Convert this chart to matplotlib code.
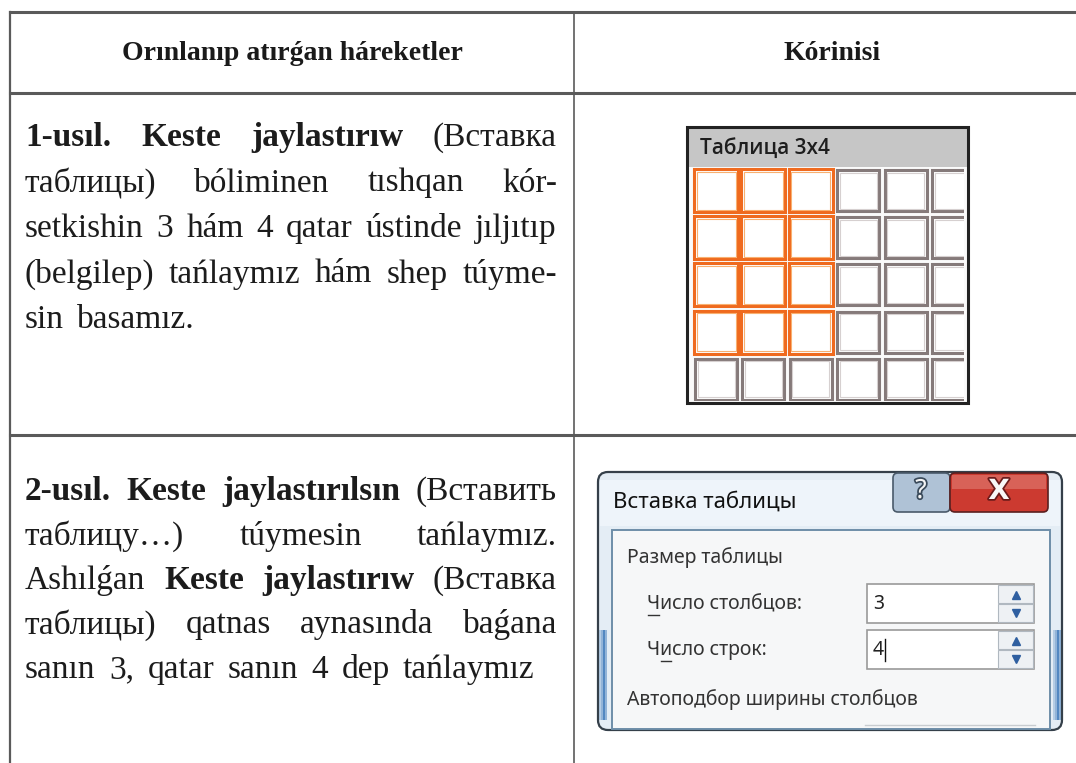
import matplotlib
matplotlib.use('Agg')
import matplotlib.pyplot as plt
from matplotlib.patches import Rectangle, FancyBboxPatch
import matplotlib.patheffects as pe

# table content
headers = ['Orınlanıp atırǵan háreketler', 'Kórinisi']

# ** ** marks bold words; last line of each block is not justified
method1 = [
    '**1-usıl.** **Keste** **jaylastırıw** (Вставка',
    'таблицы) bóliminen tıshqan kór-',
    'setkishin 3 hám 4 qatar ústinde jıljıtıp',
    '(belgilep) tańlaymız hám shep túyme-',
    'sin basamız.',
]
method2 = [
    '**2-usıl.** **Keste** **jaylastırılsın** (Вставить',
    'таблицу…) túymesin tańlaymız.',
    'Ashılǵan **Keste** **jaylastırıw** (Вставка',
    'таблицы) qatnas aynasında baǵana',
    'sanın 3, qatar sanın 4 dep tańlaymız',
]

# "Таблица 3x4" picker
grid_title = 'Таблица 3x4'
grid_cols, grid_rows = 6, 5
sel_cols, sel_rows = 3, 4

# "Вставка таблицы" dialog
dlg_title = 'Вставка таблицы'
dlg_group = 'Размер таблицы'
dlg_fields = ['Число столбцов:', 'Число строк:']
dlg_underline = [0, 1]
dlg_values = ['3', '4']
dlg_footer = 'Автоподбор ширины столбцов'

W, H = 1076, 763
fig = plt.figure(figsize=(W / 100, H / 100), dpi=100)
ax = fig.add_axes([0, 0, 1, 1])
ax.set_xlim(0, W)
ax.set_ylim(H, 0)
ax.axis('off')
renderer = fig.canvas.get_renderer()

serif = ['Liberation Serif', 'DejaVu Serif']
sans = ['Noto Sans', 'DejaVu Sans']
line_col = '#5a5a5a'

# table lines
x_left, x_mid, y_top, y_head, y_row = 10, 574, 12, 93, 435
ax.plot([x_left, W], [y_top, y_top], color=line_col, lw=2.2)
ax.plot([x_left, W], [y_head, y_head], color=line_col, lw=2.2)
ax.plot([x_left, W], [y_row, y_row], color=line_col, lw=2.2)
ax.plot([x_left, x_left], [y_top, H], color=line_col, lw=1.6)
ax.plot([x_mid, x_mid], [y_top, H], color=line_col, lw=1.2)

ax.text((x_left + x_mid) / 2, 54, headers[0], family=serif, weight='bold',
        fontsize=20, ha='center', va='center', color='#1a1a1a')
ax.text(832, 54, headers[1], family=serif, weight='bold',
        fontsize=20, ha='center', va='center', color='#1a1a1a')


def text_width(t):
    bb = t.get_window_extent(renderer)
    return bb.width


def draw_block(lines, x0, x1, y0, dy, size):
    space = None
    for i, line in enumerate(lines):
        words = []
        for w in line.split():
            bold = w.startswith('**')
            words.append((w.strip('*'), bold))
        objs = []
        for w, bold in words:
            t = ax.text(x0, y0 + i * dy, w, family=serif, fontsize=size,
                        weight='bold' if bold else 'normal',
                        ha='left', va='baseline', color='#1c1c1c')
            objs.append(t)
        widths = [text_width(t) for t in objs]
        if space is None:
            probe = ax.text(0, 0, 'a a', family=serif, fontsize=size)
            probe2 = ax.text(0, 0, 'aa', family=serif, fontsize=size)
            space = text_width(probe) - text_width(probe2)
            probe.remove()
            probe2.remove()
        if i < len(lines) - 1 and len(objs) > 1:
            gap = (x1 - x0 - sum(widths)) / (len(objs) - 1)
        else:
            gap = space * 1.6
        x = x0
        for t, w in zip(objs, widths):
            t.set_x(x)
            x += w + gap


draw_block(method1, 25, 557, 146, 45.5, 24)
draw_block(method2, 25, 557, 500, 44.5, 24)

# ---- table size picker
fx0, fx1, fy0, fy1 = 687, 968, 127, 403
ax.add_patch(Rectangle((fx0, fy0), fx1 - fx0, fy1 - fy0, facecolor='#fafafa',
                       edgecolor='none'))
ax.add_patch(Rectangle((fx0, fy0), fx1 - fx0, 40, facecolor='#c6c6c6',
                       edgecolor='none'))
ax.text(fx0 + 13, fy0 + 21, grid_title, family=['Open Sans', 'DejaVu Sans'],
        fontsize=15, weight='semibold', ha='left', va='center', color='#1e1e1e')
clip = Rectangle((fx0, fy0), fx1 - fx0 - 4, fy1 - fy0 - 2, transform=ax.transData,
                 facecolor='none', edgecolor='none')
ax.add_patch(clip)
for r in range(grid_rows):
    for c in range(grid_cols):
        cx = 694 + c * 47.4
        cy = 169 + r * 47.2
        selected = c < sel_cols and r < sel_rows
        if selected:
            outer = Rectangle((cx, cy), 44, 43, facecolor='white',
                              edgecolor='#ef6a1e', lw=2.2)
            inner = Rectangle((cx + 2.5, cy + 2.5), 39, 38, facecolor='none',
                              edgecolor='#f8b070', lw=0.8)
        else:
            outer = Rectangle((cx + 1, cy + 1), 42, 41, facecolor='white',
                              edgecolor='#857a7a', lw=2.2)
            inner = Rectangle((cx + 3.5, cy + 3.5), 37, 36, facecolor='none',
                              edgecolor='#d6d0d0', lw=0.8)
        for p in (outer, inner):
            ax.add_patch(p)
            p.set_clip_path(clip)
ax.add_patch(Rectangle((fx0, fy0), fx1 - fx0, fy1 - fy0, facecolor='none',
                       edgecolor='#222222', lw=2.2))

# ---- insert table dialog
dx0, dx1, dy0, dy1 = 598, 1062, 472, 730
ax.add_patch(FancyBboxPatch((dx0, dy0), dx1 - dx0, dy1 - dy0,
                            boxstyle='round,pad=0,rounding_size=10',
                            facecolor='#e4edf5', edgecolor='#35404a', lw=1.6))
ax.add_patch(Rectangle((dx0 + 2, dy0 + 8), dx1 - dx0 - 4, 46,
                       facecolor='#eef4fa', edgecolor='none'))
# side glows
for gx in (dx0 + 1, dx1 - 9):
    for k, a in enumerate([0.25, 0.45, 0.8, 0.45]):
        ax.add_patch(Rectangle((gx + k * 2, 630), 2, 90, facecolor='#2f6fb5',
                               edgecolor='none', alpha=a))
# help and close buttons
ax.add_patch(FancyBboxPatch((893, dy0 + 1), 57, 39,
                            boxstyle='round,pad=0,rounding_size=5',
                            facecolor='#afc2d6', edgecolor='#4a5a6a', lw=1.2))
ax.add_patch(FancyBboxPatch((950, dy0 + 1), 98, 39,
                            boxstyle='round,pad=0,rounding_size=5',
                            facecolor='#cc3a30', edgecolor='#5a2020', lw=1.2))
ax.add_patch(Rectangle((952, dy0 + 3), 94, 14, facecolor='#e8958a',
                       edgecolor='none', alpha=0.45))
ax.text(921, dy0 + 19, '?', family=sans, fontsize=19, ha='center', va='center',
        color='#f4f4f4',
        path_effects=[pe.withStroke(linewidth=2.5, foreground='#3a4a5a')])
ax.text(999, dy0 + 19, 'X', family=['DejaVu Sans'], fontsize=20, weight='bold',
        ha='center', va='center', color='#f8f8f8',
        path_effects=[pe.withStroke(linewidth=2.5, foreground='#6a1a1a')])
ax.text(dx0 + 15, 502, dlg_title, family=sans, fontsize=16, ha='left',
        va='center', color='#111111')

# inner panel
px0, px1, py0 = 612, 1050, 530
fs = 14
ax.add_patch(Rectangle((px0, py0), px1 - px0, dy1 - py0 - 1, facecolor='#f6f7f8',
                       edgecolor='#6e8ea8', lw=1.4))
ax.text(627, 558, dlg_group, family=sans, fontsize=fs, ha='left',
        va='center', color='#333333')
for i, (lab, ul, val) in enumerate(zip(dlg_fields, dlg_underline, dlg_values)):
    yc = 604 + i * 46
    t = ax.text(647, yc, lab, family=sans, fontsize=fs, ha='left',
                va='center', color='#333333')
    pre = ax.text(647, yc, lab[:ul], family=sans, fontsize=fs)
    ch = ax.text(647, yc, lab[:ul + 1], family=sans, fontsize=fs)
    u0 = 647 + (text_width(pre) if ul else 0)
    u1 = 647 + text_width(ch)
    pre.remove()
    ch.remove()
    ax.plot([u0 + 1, u1 - 1], [yc + 11, yc + 11], color='#333333', lw=1)
    # spin box
    ax.add_patch(Rectangle((867, yc - 20), 167, 39, facecolor='white',
                           edgecolor='#9a9a9a', lw=1.2))
    ax.add_patch(Rectangle((998, yc - 19), 35, 18, facecolor='#eef1f4',
                           edgecolor='#b0b8c0', lw=0.8))
    ax.add_patch(Rectangle((998, yc), 35, 18, facecolor='#eef1f4',
                           edgecolor='#b0b8c0', lw=0.8))
    ax.plot([1015.5], [yc - 9], marker='^', ms=6, color='#2f5fa0')
    ax.plot([1015.5], [yc + 9], marker='v', ms=6, color='#2f5fa0')
    ax.text(873, yc, val, family=sans, fontsize=fs, ha='left', va='center',
            color='#222222')
    if i == 1:
        ax.plot([885, 885], [yc - 11, yc + 11], color='#111111', lw=1)
ax.text(627, 700, dlg_footer, family=sans, fontsize=fs, ha='left',
        va='center', color='#333333')
ax.plot([865, 1035], [725, 725], color='#c8ccd0', lw=1)

fig.savefig('out.png', dpi=100)
